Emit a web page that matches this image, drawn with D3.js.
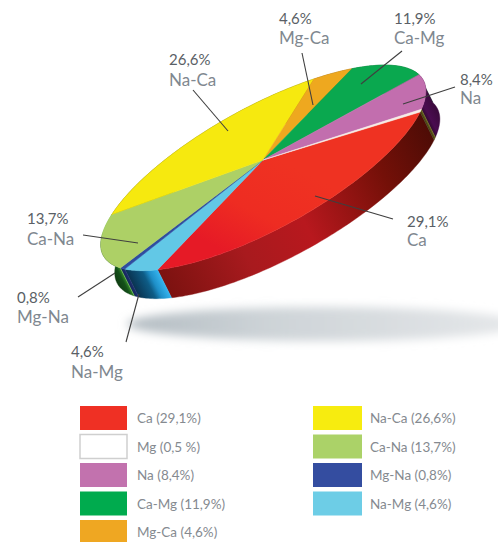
<!DOCTYPE html>
<html>
<head>
<meta charset="utf-8">
<script src="https://cdn.jsdelivr.net/npm/d3@7/dist/d3.min.js"></script>
<style>
html,body{margin:0;padding:0;background:#fff}
svg{display:block}
text{font-family:Lato,"Open Sans",sans-serif}
</style>
</head>
<body>
<svg id="chart" width="498" height="542"></svg>
<script>
// Water facies shares, in pie order starting at the Ca/Mg edge
const categories = ["Ca","Na-Mg","Mg-Na","Ca-Na","Na-Ca","Mg-Ca","Ca-Mg","Na","Mg"];
const shares     = [29.1, 4.6, 0.8, 13.7, 26.6, 4.6, 11.9, 8.4, 0.5];
const topColors  = ["url(#caTop)","#62c8e6","#2f4da0","#add066","#f6e90f","#eea81f","#0aa84f","#c26eae","#f6ece6"];

// Legend, read column by column
const legendLeft  = ["Ca (29,1%)","Mg (0,5 %)","Na (8,4%)","Ca-Mg (11,9%)","Mg-Ca (4,6%)"];
const legendLeftColors = ["#ef3024","#ffffff","#c272ae","#00ab4e","#efa722"];
const legendRight = ["Na-Ca (26,6%)","Ca-Na (13,7%)","Mg-Na (0,8%)","Na-Mg (4,6%)"];
const legendRightColors = ["#f7ec0f","#abd268","#344da0","#6dcde6"];

// Callout text
const calloutPercents = ["29,1%","4,6%","0,8%","13,7%","26,6%","4,6%","11,9%","8,4%"];
const calloutNames    = ["Ca","Na-Mg","Mg-Na","Ca-Na","Na-Ca","Mg-Ca","Ca-Mg","Na"];

// Callout placement: text origin and leader ends, in page pixels
const calloutLayout = [
  {x:407,y1:227,y2:246,from:[393,219],to:[315,196]},
  {x:71, y1:357,y2:378,from:[126,342],to:[139,294]},
  {x:17, y1:303,y2:323,from:[78,297], to:[115,273]},
  {x:27, y1:224,y2:245,from:[83,235], to:[138,243]},
  {x:169,y1:65, y2:86, from:[193,90], to:[228,131]},
  {x:279,y1:24, y2:44, from:[302,53], to:[313,105]},
  {x:394,y1:24, y2:44, from:[402,51], to:[361,84]},
  {x:460,y1:85, y2:104,from:[455,87], to:[403,104]}
];

// Rim shading per slice, from the start of its arc to the end
const wallStops = [
  [[0,"#4e0c06"],[0.2,"#741008"],[0.5,"#b8181e"],[0.72,"#a81a1e"],[1,"#7c1210"]],
  [[0,"#35b4ee"],[0.3,"#1e8fc8"],[0.5,"#0e5c86"],[1,"#0a3350"]],
  [[0,"#1d2f70"],[1,"#142458"]],
  [[0,"#6cc04a"],[0.1,"#2a7a24"],[0.35,"#14501a"],[1,"#0f3d12"]],
  [[0,"#5c5a08"],[1,"#5c5a08"]],
  [[0,"#7a5410"],[1,"#7a5410"]],
  [[0,"#0a5a2a"],[1,"#0a5a2a"]],
  [[0,"#3c0a3e"],[0.7,"#4a0c50"],[1,"#320832"]],
  [[0,"#6f6a1e"],[1,"#3a3410"]]
];

const svg = d3.select("#chart");
const defs = svg.append("defs");

defs.append("filter").attr("id","shadowBlur")
  .attr("x","-20%").attr("y","-80%").attr("width","140%").attr("height","260%")
  .append("feGaussianBlur").attr("stdDeviation",5);

const shadowFade = defs.append("linearGradient").attr("id","shadowFade");
[[0,"#b4bdc3"],[0.35,"#cdd3d7"],[1,"#e6e8ea"]].forEach(([o,c])=>
  shadowFade.append("stop").attr("offset",o).attr("stop-color",c));

const caTop = defs.append("linearGradient").attr("id","caTop")
  .attr("gradientUnits","userSpaceOnUse")
  .attr("x1",300).attr("y1",170).attr("x2",250).attr("y2",265);
[[0,"#ef3222"],[0.55,"#ee2c22"],[1,"#e61a26"]].forEach(([o,c])=>
  caTop.append("stop").attr("offset",o).attr("stop-color",c));

// Tilted disc: unit circle pushed through a perspective mapping onto the page
const centre = [263,160];
const U = [150,-45.8], V = [-59.8,90.9], persp = [-0.045,-0.108];
const depth = [14,28];
function project(a){
  const x = Math.cos(a), y = Math.sin(a);
  const w = 1 + persp[0]*x + persp[1]*y;
  return [centre[0] + (U[0]*x + V[0]*y)/w, centre[1] + (U[1]*x + V[1]*y)/w];
}
function arcPoints(a0, a1){
  const n = Math.max(2, Math.ceil((a1-a0)/0.02));
  return d3.range(n+1).map(i => project(a0 + (a1-a0)*i/n));
}
const linePath = d3.line();

const pie = d3.pie().sort(null).startAngle(0).endAngle(2*Math.PI);
const slices = pie(shares);

// Ground shadow
svg.append("ellipse")
  .attr("cx",325).attr("cy",324).attr("rx",198).attr("ry",17)
  .attr("fill","url(#shadowFade)")
  .attr("filter","url(#shadowBlur)");

// Rim: each arc extruded by the thickness; shading bands run along the extrusion
const depthLen = Math.hypot(depth[0],depth[1]);
const bandNormal = [depth[1]/depthLen, -depth[0]/depthLen];
slices.forEach((s,i)=>{
  const pts = arcPoints(s.startAngle, s.endAngle);
  const p0 = pts[0];
  // The shading runs as far as the arc travels leftwards across the bands
  const span = Math.min(-1, d3.min(pts, p => (p[0]-p0[0])*bandNormal[0] + (p[1]-p0[1])*bandNormal[1]));
  const grad = defs.append("linearGradient").attr("id",`wall${i}`)
    .attr("gradientUnits","userSpaceOnUse")
    .attr("x1",p0[0]).attr("y1",p0[1])
    .attr("x2",p0[0]+bandNormal[0]*span).attr("y2",p0[1]+bandNormal[1]*span);
  wallStops[i].forEach(([o,c])=>grad.append("stop").attr("offset",o).attr("stop-color",c));
  const lower = pts.slice().reverse().map(p=>[p[0]+depth[0],p[1]+depth[1]]);
  svg.append("path").attr("d",linePath(pts.concat(lower))+"Z")
    .attr("fill",`url(#wall${i})`).attr("stroke",`url(#wall${i})`).attr("stroke-width",0.4);
});

// Top face of the disc
const topFace = svg.append("g");
slices.forEach((s,i)=>{
  topFace.append("path")
    .attr("d",linePath([centre].concat(arcPoints(s.startAngle,s.endAngle)))+"Z")
    .attr("fill",topColors[i])
    .attr("stroke",topColors[i]).attr("stroke-width",0.5);
});

// Leaders and callout labels
calloutLayout.forEach((c,i)=>{
  svg.append("line")
    .attr("x1",c.from[0]).attr("y1",c.from[1]).attr("x2",c.to[0]).attr("y2",c.to[1])
    .attr("stroke","#3f3f3f").attr("stroke-width",1.1);
  svg.append("text").attr("x",c.x).attr("y",c.y1)
    .attr("font-size",15).attr("fill","#5a5f66").text(calloutPercents[i]);
  svg.append("text").attr("x",c.x).attr("y",c.y2)
    .attr("font-size",17).attr("fill","#7f8890").text(calloutNames[i]);
});

// Legend, two columns
const rowScale = d3.scalePoint().domain(d3.range(5)).range([418,532]);
function legendColumn(labels, colors, swatchX, swatchW, textX){
  labels.forEach((label,i)=>{
    const y = rowScale(i);
    svg.append("rect")
      .attr("x",swatchX).attr("y",y-12).attr("width",swatchW).attr("height",24)
      .attr("fill",colors[i])
      .attr("stroke",colors[i]==="#ffffff"?"#cfcfcf":"none").attr("stroke-width",1.5);
    svg.append("text").attr("x",textX).attr("y",y+5)
      .attr("font-size",13.5).attr("fill","#858a90").text(label);
  });
}
legendColumn(legendLeft, legendLeftColors, 80, 47, 137);
legendColumn(legendRight, legendRightColors, 313, 49, 370);
</script>
</body>
</html>
